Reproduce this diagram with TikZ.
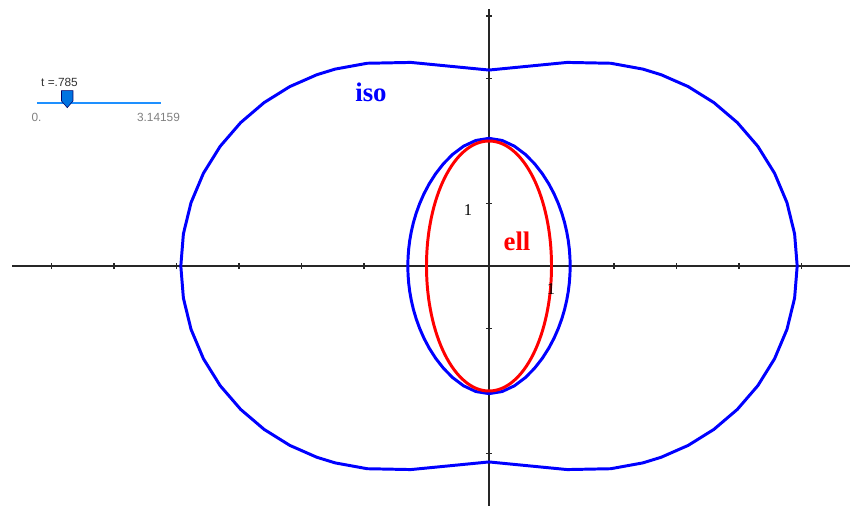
\documentclass[tikz,border=0pt]{standalone}
\usepackage{fontspec}
\setmainfont{Liberation Serif}
\setsansfont{Liberation Sans}
\usetikzlibrary{positioning}

\definecolor{slideline}{RGB}{30,144,255}
\definecolor{slidehandle}{RGB}{0,115,225}

\tikzset{
    axisline/.style={black!85, line width=0.5pt},
    isocurve/.style={blue, line width=1.35pt, line join=round},
    ellcurve/.style={red, line width=1.35pt},
    ticklabel/.style={font=\fontsize{7.5}{9}\selectfont, inner sep=0pt},
    curvelabel/.style={font=\fontsize{12.2}{14}\selectfont\bfseries, inner sep=0pt},
    slidertext/.style={font=\sffamily\fontsize{5.4}{6}\selectfont, inner sep=0pt},
    declare function={
        kk(\p)=1+3*cos(\p)^2;
        rout(\p)=sqrt(5+2*kk(\p)+sqrt((5+2*kk(\p))^2-41));
        rin(\p)=sqrt(5+2*kk(\p)-sqrt((5+2*kk(\p))^2-41));
    }
}

\begin{document}
\begin{tikzpicture}[x=1cm,y=1cm]
    \useasboundingbox (-7.824,-3.84) rectangle (5.776,4.256);

    % axes
    \coordinate (xl) at (-7.63,0);
    \coordinate (xr) at (5.78,0);
    \coordinate (yb) at (0,-3.84);
    \coordinate (yt) at (0,4.11);
    \draw[axisline] (xl) -- (xr);
    \draw[axisline] (yb) -- (yt);
    \foreach \i in {-7,...,-1,1,2,...,5}{
        \draw[axisline] (\i,-0.05) -- (\i,0.05);
    }
    \foreach \j in {-3,...,-1,1,2,...,4}{
        \draw[axisline] (-0.05,\j) -- (0.05,\j);
    }

    % isoptic, both branches
    \draw[isocurve] plot[variable=\p, samples at={0,6,...,48,52,59,69,90,111,121,128,132,138,...,228,232,239,249,270,291,301,308,312,318,...,354}] ({\p}:{rout(\p)}) -- cycle;
    \draw[isocurve] plot[domain=0:360, samples=61, variable=\p] ({\p}:{rin(\p)}) -- cycle;

    % ellipse
    \draw[ellcurve] (0,0) ellipse (1 and 2);

    \node[ticklabel] (oneY) at (-0.336,0.888) {1};
    \node[ticklabel] (oneX) at (0.992,-0.368) {1};
    \node[curvelabel, text=blue] (isoLabel) at (-1.888,2.784) {iso};
    \node[curvelabel, text=red] (ellLabel) at (0.448,0.392) {ell};

    % slider
    \coordinate (slideL) at (-7.232,2.608);
    \coordinate (slideR) at (-5.248,2.608);
    \draw[slideline, line width=0.7pt] (slideL) -- (slideR);
    \fill[slidehandle, draw=blue!40!black, line width=0.25pt]
        (-6.84,2.805) -- (-6.656,2.805) -- (-6.656,2.64) -- (-6.748,2.533) -- (-6.84,2.64) -- cycle;
    \node[slidertext, text=black!80] (tval) at (-6.872,2.944) {t =.785};
    \node[slidertext, text=black!50] (tmin) at (-7.24,2.384) {0.};
    \node[slidertext, text=black!50] (tmax) at (-5.288,2.384) {3.14159};
\end{tikzpicture}
\end{document}
